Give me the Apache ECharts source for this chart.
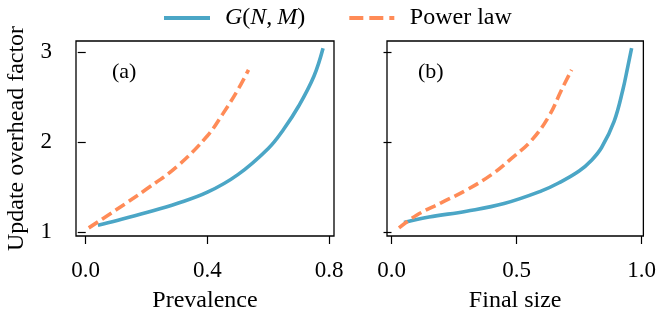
<!DOCTYPE html>
<html lang="en">
<head>
    <meta charset="UTF-8">
    <title>chart</title>
    <style>
        html, body { margin: 0; padding: 0; background: #fff; }
    </style>
</head>
<body>
<div id="container" style="width:659px;height:318px"></div>

<script type="text/javascript" src="https://cdn.jsdelivr.net/npm/echarts@6/dist/echarts.min.js"></script>

<script type="text/javascript">
    // (a) prevalence panel
    var prevG_x = [0.04, 0.1, 0.2, 0.3, 0.4, 0.5, 0.6, 0.65, 0.7, 0.75, 0.78];
    var prevG_y = [1.08, 1.13, 1.22, 1.32, 1.445, 1.64, 1.93, 2.14, 2.40, 2.73, 3.04];
    var prevP_x = [0.01, 0.1, 0.2, 0.3, 0.4, 0.45, 0.5, 0.535];
    var prevP_y = [1.05, 1.25, 1.48, 1.73, 2.07, 2.31, 2.58, 2.80];
    // (b) final size panel
    var finG_x = [0.05, 0.15, 0.3, 0.45, 0.6, 0.67, 0.75, 0.8, 0.84, 0.89, 0.925, 0.945, 0.96];
    var finG_y = [1.11, 1.17, 1.235, 1.32, 1.46, 1.55, 1.68, 1.8, 1.94, 2.23, 2.58, 2.84, 3.04];
    var finP_x = [0.03, 0.1, 0.2, 0.3, 0.4, 0.48, 0.56, 0.63, 0.68, 0.72];
    var finP_y = [1.05, 1.19, 1.33, 1.47, 1.64, 1.82, 2.02, 2.29, 2.58, 2.80];

    var prevTicks = [0, 0.4, 0.8];
    var finTicks = [0, 0.5, 1.0];
    var yTicks = [1, 2, 3];

    var gTitle = 'G(N,M)';
    var pTitle = 'Power law';
    var gColor = '#4ba6c6';
    var pColor = '#ff8b57';
    var font = 'Liberation Serif';

    function pairs(xs, ys) {
        return xs.map(function (x, i) { return [x, ys[i]]; });
    }

    function xAxis(idx, ticks, min, max, name) {
        return {
            type: 'value', gridIndex: idx, min: min, max: max,
            name: name, nameLocation: 'middle', nameGap: 53,
            nameTextStyle: {color: '#000', fontFamily: font, fontSize: 24},
            axisLine: {show: false},
            axisTick: {show: true, length: 8, customValues: ticks, lineStyle: {color: '#000', width: 1.2}},
            axisLabel: {
                customValues: ticks, margin: 23, color: '#000', fontFamily: font, fontSize: 23,
                formatter: function (v) { return v.toFixed(1); }
            },
            splitLine: {show: false}
        };
    }

    function yAxis(idx, showLabel) {
        return {
            type: 'value', gridIndex: idx, min: 0.96, max: 3.12,
            name: showLabel ? 'Update overhead factor' : '',
            nameLocation: 'middle', nameGap: 47,
            nameTextStyle: {color: '#000', fontFamily: font, fontSize: 24},
            axisLine: {show: false},
            axisTick: {show: true, length: 8, customValues: yTicks, lineStyle: {color: '#000', width: 1.2}},
            axisLabel: {
                show: showLabel, customValues: yTicks, margin: 24, color: '#000',
                fontFamily: font, fontSize: 23
            },
            splitLine: {show: false}
        };
    }

    function line(name, idx, data, color, dashed) {
        return {
            type: 'line', name: name, xAxisIndex: idx, yAxisIndex: idx,
            data: data, showSymbol: false, symbol: 'none',
            smooth: 0.4,
            lineStyle: {color: color, width: 3.6, type: dashed ? [11, 5] : 'solid'},
            itemStyle: {color: color},
            animation: false
        };
    }

    var dom = document.getElementById('container');
    var myChart = echarts.init(dom, null, {renderer: 'canvas'});
    myChart.setOption({
        animation: false,
        legend: {
            top: 1, left: 159, itemWidth: 46, itemHeight: 4, itemGap: 44,
            data: [
                {name: gTitle, icon: 'rect', itemStyle: {color: gColor}},
                {name: pTitle, icon: 'path://M0,0h14v4h-14z M20,0h14v4h-14z M40,0h5v4h-5z', itemStyle: {color: pColor}}
            ],
            formatter: function (name) {
                return name === gTitle ? '{s|}{i|G}{r|(}{i|N}{r|,}{t|}{i|M}{r|)}' : '{s|}{r|' + name + '}';
            },
            textStyle: {
                color: '#000', fontFamily: font, fontSize: 24,
                rich: {
                    s: {width: 10},
                    t: {width: 5},
                    i: {fontStyle: 'italic', fontFamily: font, fontSize: 24, color: '#000'},
                    r: {fontFamily: font, fontSize: 24, color: '#000'}
                }
            }
        },
        grid: [
            {left: 76, top: 41, width: 258, height: 196, show: true, borderColor: '#000', borderWidth: 1.3, backgroundColor: '#fff'},
            {left: 387, top: 41, width: 259, height: 196, show: true, borderColor: '#000', borderWidth: 1.3, backgroundColor: '#fff'}
        ],
        xAxis: [
            xAxis(0, prevTicks, -0.032, 0.816, 'Prevalence'),
            xAxis(1, finTicks, -0.018, 1.007, 'Final size')
        ],
        yAxis: [yAxis(0, true), yAxis(1, false)],
        graphic: [
            {type: 'text', left: 112, top: 61, style: {text: '(a)', font: '22px "Liberation Serif"', fill: '#000'}},
            {type: 'text', left: 418, top: 61, style: {text: '(b)', font: '22px "Liberation Serif"', fill: '#000'}}
        ],
        series: [
            line(gTitle, 0, pairs(prevG_x, prevG_y), gColor, false),
            line(pTitle, 0, pairs(prevP_x, prevP_y), pColor, true),
            line(gTitle, 1, pairs(finG_x, finG_y), gColor, false),
            line(pTitle, 1, pairs(finP_x, finP_y), pColor, true)
        ]
    });
</script>
</body>
</html>
